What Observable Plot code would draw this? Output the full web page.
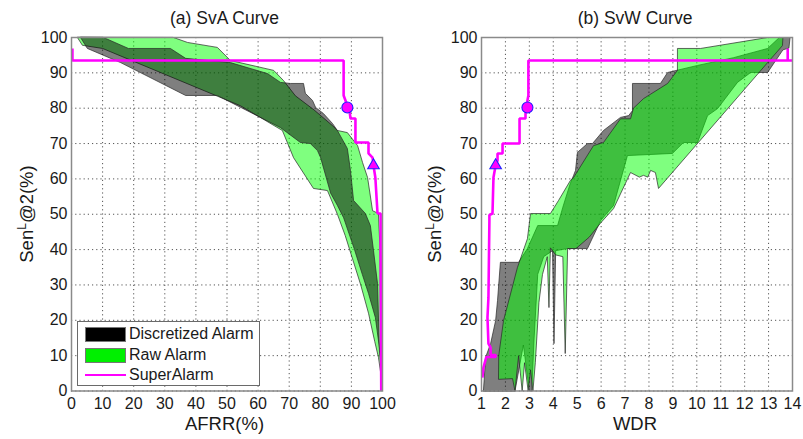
<!DOCTYPE html>
<html><head><meta charset="utf-8">
<script src="https://cdn.jsdelivr.net/npm/d3@7"></script>
<script src="https://cdn.jsdelivr.net/npm/@observablehq/plot@0.6"></script>
<style>
body{margin:0;background:#fff;}
#wrap{position:relative;width:803px;height:439px;overflow:hidden;font-family:"Liberation Sans",Arial,sans-serif;color:#1a1a1a;}
.panel{position:absolute;top:0;}
.txt{position:absolute;white-space:nowrap;transform:translate(-50%,-50%);line-height:1;}
.ylab{transform:translate(-50%,-50%) rotate(-90deg);}
.ylab sup{font-size:12px;line-height:0;vertical-align:0.6em;}
.legend{position:absolute;left:77px;top:321px;width:181px;height:63px;border:1px solid #6a6a6a;background:#fff;}
.sw{position:absolute;left:7px;width:39px;height:13px;border:1px solid #777;}
.lt{position:absolute;left:51px;font-size:16px;line-height:1;white-space:nowrap;transform:translateY(-50%);}
</style></head><body><div id="wrap"></div>
<script>
// ---------- tick values ----------
const yTicks = [0,10,20,30,40,50,60,70,80,90,100];
const xTicksA = [0,10,20,30,40,50,60,70,80,90,100];
const xTicksB = [1,2,3,4,5,6,7,8,9,10,11,12,13,14];

// ---------- panel (a) SvA: [AFRR, Sen] ----------
const discA_left = [[2.9,100],[5.1,96.9],[15.8,92.9],[36.7,83.6],[46.9,83.6],[67.2,74.5],[73.6,70.3],[76.8,70],[79.1,68],[80.1,66],[83.3,56],[85.5,52.5],[87.5,49],[89.2,44.6],[91,40],[93.5,33],[95.5,27.6],[97.7,20.8],[99.2,11],[100,1.5],[100,0]];
const discA_right = [[10.3,100],[18.3,96.9],[31.8,96.9],[36.7,94.1],[51.1,92.9],[63,89.8],[67.2,87.3],[70.4,87],[74.6,87],[75.2,84.2],[77.5,82.2],[78.5,80.2],[81,78.5],[83.9,75.7],[85.5,73.7],[88.7,68.6],[89.7,62.4],[90.7,53.9],[94.5,50.2],[96.1,46.8],[97.1,39.8],[98.4,30.4],[99,11.5],[100,3],[100,0]];
const rawA_left = [[1.9,100],[3.5,97.8],[10,96.9],[54.3,80.7],[67.8,73.7],[71.4,66],[77.8,57.3],[82.3,56.7],[85.5,50],[88,44],[90.5,37],[93,30],[95.5,22],[97.5,14],[98.7,9.5],[100,1.5],[100,0]];
const rawA_right = [[32.8,100],[37.3,98.6],[46.9,97.2],[51.1,93.5],[65,90.7],[68.2,87.8],[72,83.5],[78,79.5],[84,75],[85.5,73.7],[88.7,73.1],[92,69.4],[93.6,64.6],[95.2,60.4],[96.8,51],[98.7,50.2],[99.2,40],[99.4,11.5],[100,3],[100,0]];
const superA = [[0.3,96.9],[0.3,93.5],[87.5,93.5],[87.5,83.6],[88.1,82.2],[88.7,80.2],[89.4,79.3],[89.7,77.1],[91.3,77.1],[91.3,70.3],[95.5,70.3],[95.5,67.2],[96.8,66],[97.1,63.8],[97.7,60.4],[98.4,50.2],[99.4,50.2],[99.4,39.8],[99.6,0]];
const superA_circle = [[88.7,80.2]];
const superA_triangle = [[97.1,63.8]];

// ---------- panel (b) SvW: [WDR, Sen] ----------
const discB_upper = [[1.08,0],[1.17,9.5],[1.38,13.4],[1.59,19.9],[1.67,25.6],[1.79,36.4],[2.55,36.4],[2.92,40.3],[3.35,46.8],[4.18,46.8],[4.4,52],[4.7,58.5],[4.85,61],[4.93,62.4],[5.01,67.5],[5.43,70],[5.64,70],[6.1,73.7],[6.81,77.4],[7.15,77.9],[7.31,79.3],[7.31,87],[8.48,87],[8.78,90.1],[10.03,92.1],[11.54,94.3],[12.96,96.9],[13.45,100],[13.9,100]];
const discB_lower = [[13.9,100],[13.85,97],[13.6,96.5],[12.96,90.1],[12.25,90.1],[11.7,87.3],[10.87,79.9],[10.45,77.9],[10.03,70.3],[9.44,70.3],[8.98,67.2],[7.1,66.6],[6.52,52.5],[5.98,48.2],[5.43,40.3],[4.6,40.3],[4.1,39.7],[4.03,13.4],[3.97,39.7],[3.6,38],[3.35,33],[3.2,15],[3.1,0],[3.0,0],[2.75,13],[2.4,0]];
const rawB_upper = [[1.71,3.4],[1.72,10],[1.92,19.9],[2.5,34.9],[2.92,43.1],[3.05,50.2],[3.88,50.2],[4.22,53.9],[4.72,59.6],[4.85,60.4],[5.68,69.4],[6.1,70.3],[6.81,77],[7.23,77],[7.35,80],[7.77,82.7],[8.78,87],[9.19,90.7],[9.19,96.9],[10.16,96.9],[12.96,100],[13.6,100]];
const rawB_lower = [[13.6,100],[13.58,97.7],[12.96,92.9],[8.4,57.3],[8.27,61.8],[8.07,62.4],[7.95,60.5],[7.77,61],[7.6,60.5],[7.23,61.8],[6.52,51.6],[6.0,47.7],[5.5,43.5],[4.95,40.3],[4.6,40.3],[4.5,10.6],[4.4,38],[4.1,38.5],[3.88,40.5],[3.82,23.6],[3.75,38],[3.55,33],[3.4,25],[3.25,8],[3.15,0],[3.05,6],[2.95,0],[2.8,8],[2.7,0],[2.55,10],[2.4,0],[2.3,3.4]];
const superB = [[13.8,96.9],[13.8,93.5],[14,93.5],[2.96,93.5],[2.96,83.6],[2.92,82.2],[2.92,80.2],[2.84,78.5],[2.84,77.1],[2.59,77.1],[2.59,70],[1.88,70],[1.88,67.2],[1.67,67.2],[1.67,65.2],[1.59,63.8],[1.5,60.4],[1.46,50.2],[1.33,49.8],[1.33,48],[1.29,26.4],[1.25,20.8],[1.29,13.4],[1.38,12.3],[1.38,10.2],[1.59,10.2],[1.59,9.6],[1.2,9.6],[1.08,6.6],[1.04,3.8]];
const superB_circle = [[2.92,80.2]];
const superB_triangle = [[1.59,63.8]];

// ---------- drawing ----------
const FONT = "'Liberation Sans', Arial, sans-serif";
const X = d => d[0], Y = d => d[1];
function band(points, color) {
  return Plot.line(points, {x: X, y: Y, curve: "linear-closed", fill: color, fillOpacity: 0.5,
    stroke: "#262626", strokeWidth: 0.7, strokeLinejoin: "miter"});
}
function panel(o) {
  return Plot.plot({
    width: o.width, height: 439,
    marginLeft: o.ml, marginRight: o.mr, marginTop: 37, marginBottom: 48.5,
    style: {fontFamily: FONT, fontSize: "16px", color: "#1a1a1a", background: "transparent", overflow: "visible"},
    x: {domain: o.xDomain, ticks: o.xTicks, tickSize: 0, tickPadding: 6.5, label: null, tickFormat: d => String(d)},
    y: {domain: [0, 100], ticks: yTicks, tickSize: 0, tickPadding: 4, label: null, tickFormat: d => String(d)},
    marks: [
      Plot.ruleX(o.xTicks, {stroke: "#555", strokeDasharray: "1.2,3", strokeWidth: 1}),
      Plot.ruleY(yTicks, {stroke: "#555", strokeDasharray: "1.2,3", strokeWidth: 1}),
      ...o.bands.map(b => band(b[0], b[1])),
      Plot.line(o.superLine, {x: X, y: Y, stroke: "#ff00ff", strokeWidth: 2.6, strokeLinejoin: "miter", strokeLinecap: "butt"}),
      Plot.dot(o.circle, {x: X, y: Y, r: 5.5, fill: "#ff00ff", stroke: "#2020ff", strokeWidth: 1.1}),
      Plot.dot(o.triangle, {x: X, y: Y, r: 4.3, symbol: "triangle", fill: "#ff00ff", stroke: "#2020ff", strokeWidth: 1.1}),
      Plot.frame({stroke: "#8a8a8a", strokeWidth: 1.5})
    ]
  });
}
const poly = (a, b) => a.concat(b.slice().reverse());

const wrap = document.getElementById("wrap");
const pa = panel({
  width: 400, ml: 71, mr: 18, xDomain: [0, 100], xTicks: xTicksA,
  bands: [[poly(rawA_left, rawA_right), "#00ff00"], [poly(discA_left, discA_right), "#000000"]],
  superLine: superA, circle: superA_circle, triangle: superA_triangle
});
pa.classList.add("panel"); pa.style.left = "0px";
wrap.appendChild(pa);

const pb = panel({
  width: 403, ml: 81, mr: 11, xDomain: [1, 14], xTicks: xTicksB,
  bands: [[discB_upper.concat(discB_lower), "#000000"], [rawB_upper.concat(rawB_lower), "#00ff00"]],
  superLine: superB, circle: superB_circle, triangle: superB_triangle
});
pb.classList.add("panel"); pb.style.left = "400px";
wrap.appendChild(pb);

function addText(html, cls, x, y, size) {
  const d = document.createElement("div");
  d.className = "txt " + (cls || "");
  d.style.left = x + "px"; d.style.top = y + "px"; d.style.fontSize = size + "px";
  d.innerHTML = html;
  wrap.appendChild(d);
}
addText("(a) SvA Curve", "", 224.5, 19, 17.5);
addText("(b) SvW Curve", "", 635, 19, 17.5);
addText("AFRR(%)", "", 224.5, 424, 18.5);
addText("WDR", "", 635, 424, 18.5);
addText("Sen<sup>L</sup>@2(%)", "ylab", 27, 214, 18.5);
addText("Sen<sup>L</sup>@2(%)", "ylab", 435, 214, 18.5);

// legend
const legendItems = [
  {label: "Discretized Alarm", kind: "box", color: "#000000"},
  {label: "Raw Alarm", kind: "box", color: "#00f000"},
  {label: "SuperAlarm", kind: "line", color: "#ff00ff"}
];
const lg = document.createElement("div");
lg.className = "legend";
legendItems.forEach((it, i) => {
  const cy = 12 + i * 20.5;
  const s = document.createElement("div");
  if (it.kind === "box") {
    s.className = "sw"; s.style.top = (cy - 7) + "px"; s.style.background = it.color;
  } else {
    s.style.cssText = `position:absolute;left:7px;width:41px;height:2.6px;top:${cy - 1.3}px;background:${it.color};`;
  }
  lg.appendChild(s);
  const t = document.createElement("div");
  t.className = "lt"; t.style.top = cy + "px"; t.textContent = it.label;
  lg.appendChild(t);
});
wrap.appendChild(lg);
</script>
</body></html>
